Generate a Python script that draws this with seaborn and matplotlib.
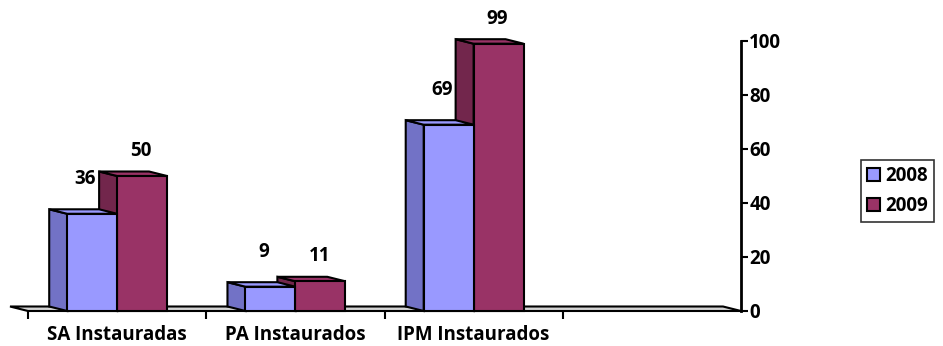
import matplotlib
matplotlib.use("Agg")
import matplotlib.pyplot as plt
import matplotlib.colors as mcolors
from matplotlib.patches import Polygon, Patch
import pandas as pd
import seaborn as sns

# Data
categories = ["SA Instauradas", "PA Instaurados", "IPM Instaurados"]
years = ["2008", "2009"]
values_2008 = [36, 9, 69]
values_2009 = [50, 11, 99]
y_ticks = [0, 20, 40, 60, 80, 100]

front_colors = {"2008": "#9999FF", "2009": "#993366"}
side_colors = {"2008": "#7272C6", "2009": "#72264C"}

df = pd.DataFrame({
    "categoria": categories * 2,
    "ano": [years[0]] * len(categories) + [years[1]] * len(categories),
    "valor": values_2008 + values_2009,
})

sns.set_style("white")
plt.rcParams["font.family"] = ["Open Sans", "DejaVu Sans"]
plt.rcParams["font.weight"] = "bold"
plt.rcParams["text.color"] = "black"
FS = 13.5

W, H, DPI = 943, 346, 100
fig = plt.figure(figsize=(W / DPI, H / DPI), dpi=DPI)
left_px, right_px, bottom_px, top_px = 28, 741, 35, 305
ax = fig.add_axes([left_px / W, bottom_px / H,
                   (right_px - left_px) / W, (top_px - bottom_px) / H])

sns.barplot(data=df, x="categoria", y="valor", hue="ano",
            order=categories, hue_order=years, palette=front_colors,
            width=0.56, gap=0, saturation=1, edgecolor="black",
            linewidth=1.5, legend=False, ax=ax)

xmin, xmax = -0.5, 3.5
ax.set_xlim(xmin, xmax)
ax.set_ylim(0, 100)

# depth of the pseudo-3D extrusion (back-left), converted to data units
depth_x_px, depth_y_px = 18, 4.5
dx = -depth_x_px * (xmax - xmin) / (right_px - left_px)
dy = depth_y_px * 100 / (top_px - bottom_px)

# floor slab
floor = Polygon([(xmin, 0), (xmax, 0), (xmax + dx, dy), (xmin + dx, dy)],
                closed=True, facecolor="#d4d4d4", edgecolor="black",
                linewidth=1.5, clip_on=False, zorder=1)
ax.add_patch(floor)

z_base = {"2008": 4, "2009": 2}
label_offset = {"2008": (-7, 35), "2009": (-1, 25)}
for p in list(ax.patches):
    if p is floor:
        continue
    fc = mcolors.to_hex(p.get_facecolor())
    year = [y for y in years if mcolors.to_hex(front_colors[y]) == fc]
    if not year:
        continue
    year = year[0]
    x0, w, h = p.get_x(), p.get_width(), p.get_height()
    z = z_base[year]
    side = Polygon([(x0, 0), (x0, h), (x0 + dx, h + dy), (x0 + dx, dy)],
                   closed=True, facecolor=side_colors[year], edgecolor="black",
                   linewidth=1.5, clip_on=False, zorder=z)
    top = Polygon([(x0, h), (x0 + w, h), (x0 + w + dx, h + dy), (x0 + dx, h + dy)],
                  closed=True, facecolor=front_colors[year], edgecolor="black",
                  linewidth=1.5, clip_on=False, zorder=z)
    ax.add_patch(side)
    ax.add_patch(top)
    p.set_zorder(z + 0.5)
    p.set_clip_on(False)
    ox, oy = label_offset[year]
    ax.annotate(f"{h:.0f}", (x0 + w / 2, h), xytext=(ox, oy),
                textcoords="offset pixels", ha="center", va="center",
                fontsize=FS, fontweight="bold", color="black",
                annotation_clip=False)

# category axis: ticks on the slot boundaries
ax.set_xticks(range(len(categories)))
ax.set_xticklabels(categories, fontsize=FS, fontweight="bold")
ax.set_xticks([xmin + i for i in range(len(categories) + 1)], minor=True)
ax.tick_params(axis="x", which="major", length=0, pad=10, labelcolor="black")
ax.tick_params(axis="x", which="minor", length=6, width=1.5,
               direction="out", color="black", bottom=True)
ax.set_xlabel("")

# value axis on the right
ax.yaxis.tick_right()
ax.set_yticks(y_ticks)
ax.set_yticklabels([str(t) for t in y_ticks], fontsize=FS, fontweight="bold")
ax.tick_params(axis="y", which="major", length=5, width=1.5,
               direction="out", color="black", labelcolor="black",
               pad=1, right=True, left=False)
ax.set_ylabel("")

for s in ["left", "top", "bottom"]:
    ax.spines[s].set_visible(False)
ax.spines["right"].set_linewidth(2)
ax.spines["right"].set_color("black")
ax.grid(False)

handles = [Patch(facecolor=front_colors[y], edgecolor="black", linewidth=1.5)
           for y in years]
leg = fig.legend(handles, years, loc="center left",
                 bbox_to_anchor=(861 / W, 1 - 191 / H),
                 frameon=True, fancybox=False, edgecolor="black",
                 prop={"size": FS, "weight": "bold"},
                 handlelength=0.7, handleheight=0.7, handletextpad=0.3,
                 labelspacing=0.55, borderpad=0.3, borderaxespad=0)
leg.get_frame().set_linewidth(1.2)
for t in leg.get_texts():
    t.set_color("black")

fig.savefig("out.png", dpi=DPI)
